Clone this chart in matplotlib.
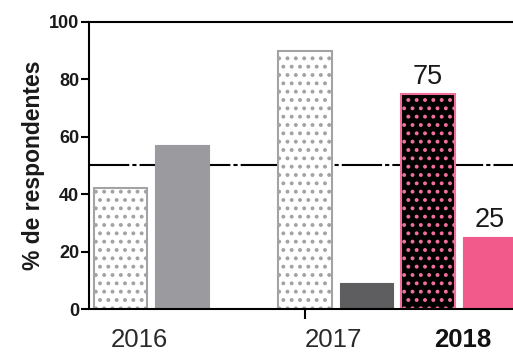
import matplotlib
matplotlib.use("Agg")
import matplotlib.pyplot as plt

plt.rcParams["font.family"] = ["Liberation Sans", "DejaVu Sans"]
plt.rcParams["hatch.linewidth"] = 1.6
plt.rcParams["lines.scale_dashes"] = False

# Survey results per year (percentage of respondents)
years = ["2016", "2017", "2018"]
series_a = [42, 90, 75]          # patterned bars
series_b = [57, 9, 25]           # solid bars
positions_a = [0, 3, 5]
positions_b = [1, 4, 6]
year_label_x = [0.30, 3.46, 5.56]
labelled_year = "2018"
reference_level = 50
y_ticks = [0, 20, 40, 60, 80, 100]

face_a = ["white", "white", "black"]
edge_a = ["#a3a3a6", "#a3a3a6", "#f0709a"]
face_b = ["#9b9a9f", "#5e5e60", "#f25a8c"]

fig = plt.figure(figsize=(5.13, 3.54), dpi=100)
ax = fig.add_axes([0.1735, 0.127, 0.9004, 0.811])

width = 0.87
ax.axhline(reference_level, color="black", lw=1.5,
           dashes=(29, 2.2, 3, 2.2), zorder=1)

for x, v, fc, ec in zip(positions_a, series_a, face_a, edge_a):
    ax.bar(x, v, width=width, color=fc, edgecolor=ec, hatch="..",
           linewidth=1.5, zorder=2)
for x, v, fc in zip(positions_b, series_b, face_b):
    ax.bar(x, v, width=width, color=fc, edgecolor=fc, linewidth=0.8,
           zorder=2)

# value labels on the latest year
i = years.index(labelled_year)
for x, v in ((positions_a[i], series_a[i]), (positions_b[i], series_b[i])):
    ax.annotate(f"{v}", (x, v), xytext=(0, 3), textcoords="offset points",
                ha="center", va="bottom", fontsize=19.5, color="#1a1a1a")

ax.set_xlim(-0.512, 7.0)
ax.set_ylim(0, 100)

ax.set_yticks(y_ticks)
ax.set_yticklabels([str(t) for t in y_ticks], fontsize=13,
                   fontweight="bold", color="#1a1a1a")
ax.tick_params(axis="y", length=6, width=1.5, pad=1)

ax.set_xticks(year_label_x)
ax.set_xticklabels(years, fontsize=18.5, color="#2a2a2a")
for lbl in ax.get_xticklabels():
    if lbl.get_text() == labelled_year:
        lbl.set_fontweight("bold")
        lbl.set_color("#111111")
ax.tick_params(axis="x", which="major", length=0, pad=14)
ax.set_xticks([positions_a[1]], minor=True)
ax.tick_params(axis="x", which="minor", length=7, width=1.5)

ax.set_ylabel("% de respondentes", fontsize=16.5, fontweight="bold",
              color="#1a1a1a", labelpad=3)

for side in ("left", "bottom", "top"):
    ax.spines[side].set_linewidth(1.5)
ax.spines["right"].set_visible(False)

fig.savefig("out.png", dpi=100)
